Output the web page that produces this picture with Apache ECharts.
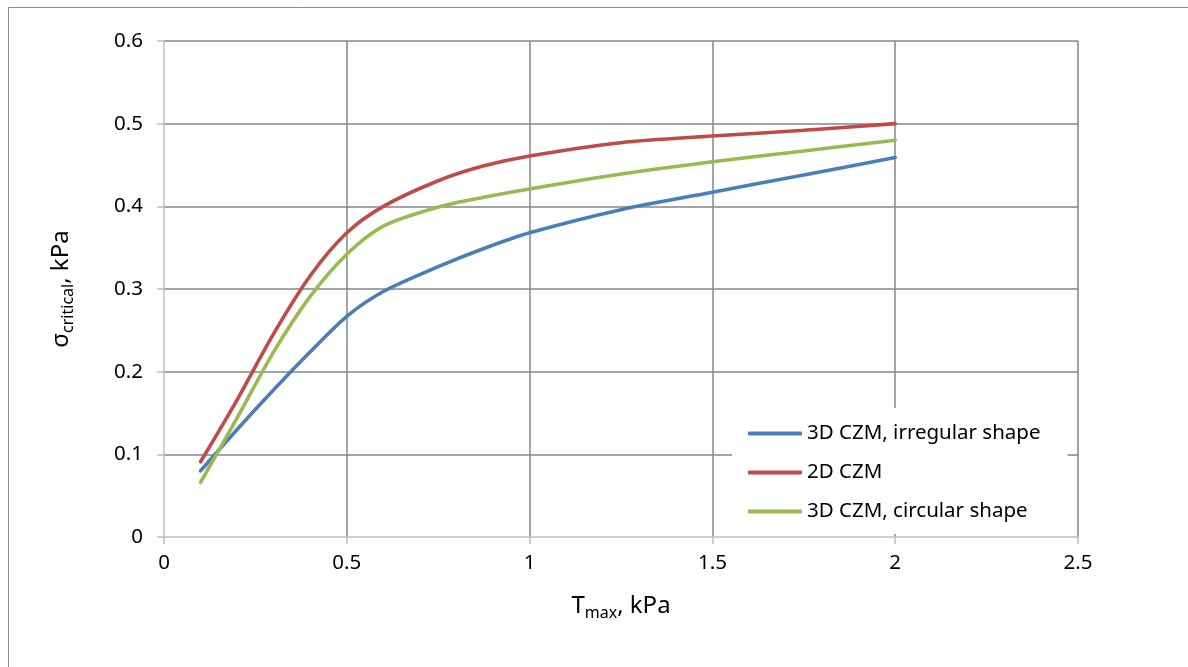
<!DOCTYPE html>
<html lang="en">
<head>
    <meta charset="UTF-8">
    <title>critical stress vs Tmax</title>
    <style>
        html, body { margin: 0; padding: 0; background: #fff; }
        #main { width: 1188px; height: 667px; }
    </style>
</head>
<body>
    <div id="main"></div>
</body>
<script src="https://cdn.jsdelivr.net/npm/echarts@6/dist/echarts.min.js"></script>
<script>
    // T_max, kPa
    var tmax = [0.1, 0.2, 0.3, 0.4, 0.5, 0.6, 0.75, 0.875, 1, 1.25, 1.5, 1.75, 2];
    // sigma critical, kPa
    var irregular3d = [0.080, 0.130, 0.178, 0.224, 0.267, 0.297, 0.327, 0.349, 0.368, 0.396, 0.417, 0.438, 0.459];
    var czm2d = [0.091, 0.166, 0.246, 0.316, 0.368, 0.400, 0.431, 0.449, 0.461, 0.477, 0.485, 0.492, 0.500];
    var circular3d = [0.066, 0.144, 0.224, 0.291, 0.342, 0.376, 0.399, 0.411, 0.421, 0.439, 0.454, 0.467, 0.480];
    var seriesNames = ['3D CZM, irregular shape', '2D CZM', '3D CZM, circular shape'];
    var colors = ['#4a7ebb', '#be4b48', '#98b954'];

    function pairs(ys) {
        var out = [];
        for (var i = 0; i < tmax.length; i++) {
            out.push([tmax[i], ys[i]]);
        }
        return out;
    }

    function lineSeries(idx, ys) {
        return {
            name: seriesNames[idx],
            type: 'line',
            smooth: 0.3,
            symbol: 'none',
            lineStyle: { color: colors[idx], width: 3.6, cap: 'round' },
            itemStyle: { color: colors[idx] },
            data: pairs(ys)
        };
    }

    var font = 'Noto Sans';
    var gridColor = '#868686';
    var axisColor = '#bfbfbf';
    var nameRich = {
        m: { fontFamily: font, fontSize: 24, color: '#000' },
        s: { fontFamily: font, fontSize: 16, color: '#000', padding: [14, 0, 0, 0] }
    };

    var myChart = echarts.init(document.getElementById('main'));
    myChart.setOption({
        animation: false,
        graphic: [{
            type: 'rect',
            shape: { x: 8.5, y: 7.5, width: 1400, height: 900 },
            style: { fill: 'none', stroke: '#8a8a8a', lineWidth: 1 },
            z: -1
        }],
        grid: { left: 164, right: 110, top: 41, bottom: 130 },
        legend: {
            orient: 'vertical',
            left: 732,
            top: 408,
            backgroundColor: '#fff',
            padding: [15, 27, 12, 16],
            icon: 'roundRect',
            itemWidth: 54,
            itemHeight: 4,
            itemGap: 18,
            textStyle: { fontFamily: font, fontSize: 20.5, color: '#000' },
            data: seriesNames
        },
        xAxis: {
            type: 'value',
            min: 0,
            max: 2.5,
            interval: 0.5,
            name: '{m|T}{s|max}{m|, kPa}',
            nameLocation: 'middle',
            nameGap: 54,
            nameTextStyle: { rich: nameRich },
            axisLine: { lineStyle: { color: axisColor, width: 1.5 } },
            axisTick: { length: 7, lineStyle: { color: axisColor, width: 1.5 } },
            axisLabel: { fontFamily: font, fontSize: 20.5, color: '#000', margin: 16 },
            splitLine: { showMinLine: false, lineStyle: { color: gridColor, width: 1.5 } }
        },
        yAxis: {
            type: 'value',
            min: 0,
            max: 0.6,
            interval: 0.1,
            name: '{m|σ}{s|critical}{m|, kPa}',
            nameLocation: 'middle',
            nameGap: 88,
            nameTextStyle: { rich: nameRich },
            axisLine: { show: true, lineStyle: { color: axisColor, width: 1.5 } },
            axisTick: { show: true, length: 7, lineStyle: { color: axisColor, width: 1.5 } },
            axisLabel: { fontFamily: font, fontSize: 20.5, color: '#000', margin: 21 },
            splitLine: { showMinLine: false, lineStyle: { color: gridColor, width: 1.5 } }
        },
        series: [
            lineSeries(0, irregular3d),
            lineSeries(1, czm2d),
            lineSeries(2, circular3d)
        ]
    });
</script>
</html>
